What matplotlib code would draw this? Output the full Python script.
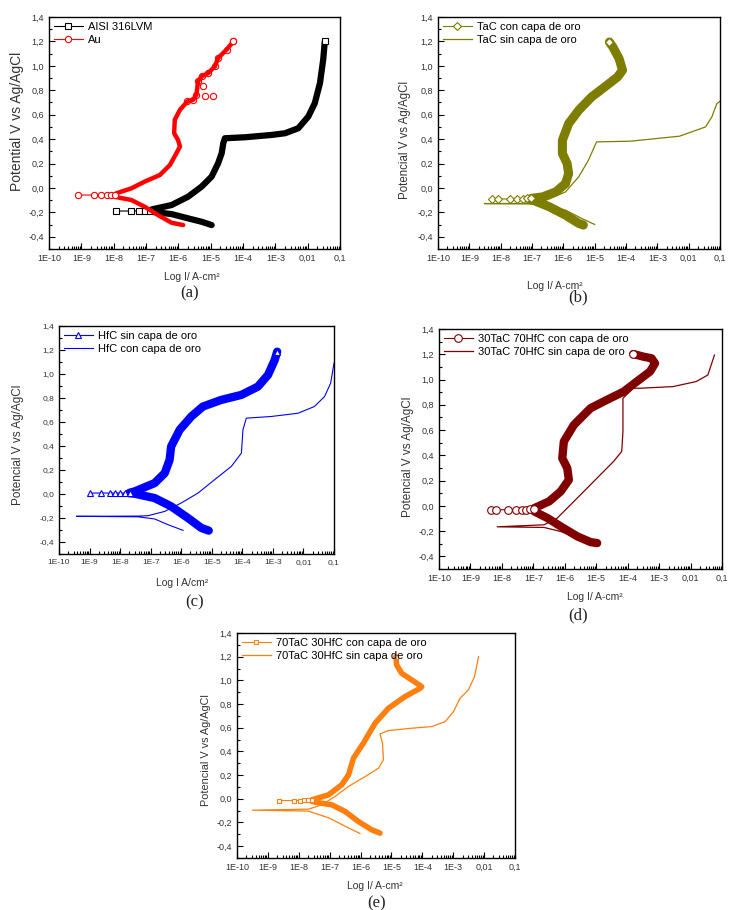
import numpy as np
import matplotlib
matplotlib.use('Agg')
import matplotlib.pyplot as plt
from matplotlib.ticker import LogLocator, FixedLocator, MultipleLocator, NullFormatter

plt.rcParams['font.family'] = ['Liberation Sans', 'DejaVu Sans']

# ---- data: log10(I) and E (V vs Ag/AgCl) ----
# (a)
aisi_tail_x = [-7.94, -7.47, -7.22, -7.04, -6.88]
aisi_tail_y = [-0.189, -0.189, -0.188, -0.187, -0.185]
aisi_an_x = [-6.83, -6.21, -5.70, -5.28, -4.97, -4.77, -4.66, -4.61, -4.56, -3.94, -3.12, -2.70, -2.29, -1.98, -1.78, -1.62, -1.52, -1.47]
aisi_an_y = [-0.176, -0.14, -0.072, 0.011, 0.093, 0.202, 0.284, 0.366, 0.407, 0.415, 0.434, 0.448, 0.489, 0.585, 0.694, 0.858, 1.05, 1.2]
aisi_cat_x = [-6.83, -6.21, -5.70, -5.28, -4.97]
aisi_cat_y = [-0.195, -0.214, -0.249, -0.277, -0.304]

au_tail_x = [-9.10, -8.61, -8.38, -8.22, -8.09, -7.97]
au_tail_y = [-0.058, -0.058, -0.058, -0.058, -0.059, -0.06]
au_an_x = [-7.92, -7.45, -7.04, -6.57, -6.26, -6.06, -5.95, -6.01, -6.13, -6.11, -5.95, -5.72, -5.54, -5.44, -5.39, -5.28, -5.08, -4.87, -4.77, -4.51, -4.30]
au_an_y = [-0.044, -0.003, 0.052, 0.106, 0.188, 0.284, 0.339, 0.393, 0.448, 0.558, 0.64, 0.708, 0.722, 0.763, 0.872, 0.913, 0.94, 0.995, 1.064, 1.132, 1.2]
au_cat_x = [-7.97, -7.45, -7.04, -6.63, -6.21, -5.85]
au_cat_y = [-0.072, -0.099, -0.154, -0.222, -0.285, -0.304]
au_out_x = [-5.18, -4.92, -5.23]
au_out_y = [0.754, 0.757, 0.837]

# (b)
tac_tail_x = [-8.29, -8.08, -7.69, -7.47, -7.30, -7.15, -7.02]
tac_tail_y = [-0.09, -0.09, -0.09, -0.088, -0.087, -0.086, -0.085]
tac_an_x = [-7.02, -6.66, -6.24, -5.93, -5.83, -5.88, -6.03, -6.03, -5.83, -5.51, -5.10, -4.68, -4.27, -4.11, -4.22, -4.42, -4.53]
tac_an_y = [-0.085, -0.073, -0.032, 0.036, 0.118, 0.2, 0.282, 0.391, 0.527, 0.636, 0.745, 0.827, 0.909, 0.964, 1.059, 1.155, 1.195]
tac_cat_x = [-7.02, -6.45, -5.93, -5.51, -5.36]
tac_cat_y = [-0.095, -0.154, -0.223, -0.29, -0.304]
tac_sin_x = [-5.0, -5.41, -5.93, -6.66, -7.3, -8.52, -7.3, -6.66, -5.93, -5.51, -5.2, -4.94, -3.85, -2.29, -1.46, -1.26, -1.1, -0.95]
tac_sin_y = [-0.299, -0.25, -0.182, -0.135, -0.13, -0.128, -0.127, -0.113, -0.032, 0.091, 0.227, 0.377, 0.383, 0.424, 0.50, 0.582, 0.691, 0.718]

# (c)
hfc_tail_x = [-9.0, -8.62, -8.34, -8.18, -8.02, -7.85, -7.69]
hfc_tail_y = [0.008, 0.008, 0.008, 0.008, 0.008, 0.008, 0.01]
hfc_an_x = [-7.69, -7.52, -6.87, -6.54, -6.38, -6.33, -6.05, -5.67, -5.29, -4.69, -4.03, -3.49, -3.16, -2.94, -2.86]
hfc_an_y = [0.01, 0.022, 0.091, 0.174, 0.285, 0.396, 0.535, 0.646, 0.729, 0.784, 0.826, 0.895, 0.992, 1.117, 1.186]
hfc_cat_x = [-7.69, -7.52, -6.87, -6.33, -5.78, -5.34, -5.10]
hfc_cat_y = [0.006, 0.002, -0.034, -0.103, -0.2, -0.283, -0.305]
hfc_con_x = [-5.94, -6.43, -6.87, -7.42, -9.43, -7.42, -7.09, -6.54, -6.0, -5.45, -4.91, -4.36, -4.03, -3.98, -3.87, -3.05, -2.18, -1.64, -1.31, -1.11, -1.0]
hfc_con_y = [-0.303, -0.256, -0.208, -0.19, -0.186, -0.184, -0.181, -0.145, -0.075, 0.008, 0.119, 0.23, 0.341, 0.535, 0.632, 0.646, 0.673, 0.729, 0.812, 0.923, 1.09]

# (d)
m30_tail_x = [-8.34, -8.20, -7.81, -7.55, -7.37, -7.23, -7.10, -6.97]
m30_tail_y = [-0.031, -0.031, -0.031, -0.031, -0.030, -0.029, -0.027, -0.025]
m30_an_x = [-6.97, -6.50, -6.13, -5.87, -5.92, -6.08, -6.03, -5.71, -5.18, -4.66, -4.13, -3.71, -3.29, -3.13, -3.24, -3.50, -3.82]
m30_an_y = [-0.018, 0.035, 0.114, 0.206, 0.298, 0.377, 0.509, 0.641, 0.773, 0.839, 0.904, 0.984, 1.063, 1.128, 1.168, 1.181, 1.202]
m30_cat_x = [-6.97, -6.55, -6.13, -5.60, -5.18, -4.97]
m30_cat_y = [-0.044, -0.097, -0.163, -0.242, -0.287, -0.295]
m30_sin_x = [-5.13, -5.6, -6.13, -6.66, -8.15, -6.66, -6.24, -5.71, -5.08, -4.45, -4.19, -4.15, -4.15, -3.82, -3.61, -2.56, -1.82, -1.45, -1.24]
m30_sin_y = [-0.295, -0.255, -0.203, -0.171, -0.166, -0.15, -0.097, 0.035, 0.193, 0.351, 0.43, 0.588, 0.852, 0.931, 0.931, 0.944, 0.984, 1.036, 1.194]

# (e)
m70_tail_x = [-8.63, -8.14, -7.96, -7.82, -7.69, -7.58]
m70_tail_y = [-0.015, -0.015, -0.015, -0.014, -0.012, -0.01]
m70_an_x = [-7.58, -7.04, -6.61, -6.39, -6.23, -5.91, -5.53, -5.10, -4.56, -4.07, -4.02, -4.34, -4.67, -4.83, -4.86]
m70_an_y = [-0.009, 0.033, 0.118, 0.202, 0.343, 0.469, 0.638, 0.764, 0.863, 0.933, 0.947, 1.003, 1.06, 1.13, 1.2]
m70_cat_x = [-7.58, -7.47, -6.93, -6.50, -6.07, -5.64, -5.37]
m70_cat_y = [-0.02, -0.029, -0.051, -0.107, -0.192, -0.262, -0.29]
m70_sin_x = [-6.02, -6.29, -6.61, -7.04, -7.69, -9.5, -7.69, -7.26, -6.83, -6.39, -5.85, -5.42, -5.26, -5.29, -5.37, -5.10, -4.34, -3.69, -3.26, -2.99, -2.78, -2.51, -2.31, -2.18]
m70_sin_y = [-0.293, -0.259, -0.217, -0.16, -0.104, -0.096, -0.088, -0.051, 0.019, 0.104, 0.188, 0.258, 0.329, 0.469, 0.548, 0.576, 0.596, 0.61, 0.652, 0.736, 0.849, 0.919, 1.032, 1.2]

xtick_labels = ['1E-10', '1E-9', '1E-8', '1E-7', '1E-6', '1E-5', '1E-4', '1E-3', '0,01', '0,1']
ytick_vals = [-0.4, -0.2, 0.0, 0.2, 0.4, 0.6, 0.8, 1.0, 1.2, 1.4]


def L(v):
    return 10.0 ** np.array(v)


def setup(ax, ylab, xlab, yl_pos, xl_pos, ysize, tsize=6.5):
    ax.set_xscale('log')
    ax.set_xlim(1e-10, 0.1)
    ax.set_ylim(-0.5, 1.4)
    ax.xaxis.set_major_locator(FixedLocator([10.0 ** k for k in range(-10, 0)]))
    ax.set_xticklabels(xtick_labels)
    ax.xaxis.set_minor_locator(LogLocator(base=10, subs=np.arange(2, 10), numticks=50))
    ax.xaxis.set_minor_formatter(NullFormatter())
    ax.yaxis.set_major_locator(FixedLocator(ytick_vals))
    ax.set_yticklabels([f'{v:.1f}'.replace('.', ',') for v in ytick_vals])
    ax.yaxis.set_minor_locator(MultipleLocator(0.1))
    ax.tick_params(which='both', direction='in', labelsize=tsize, labelcolor='#333333', width=0.8)
    ax.tick_params(which='major', length=4)
    ax.tick_params(which='minor', length=2.5)
    for s in ax.spines.values():
        s.set_linewidth(1.0)
    ax.text(yl_pos[0], yl_pos[1], ylab, transform=ax.transAxes, rotation=90,
            ha='center', va='center', fontsize=ysize, color='#333333')
    ax.text(xl_pos[0], xl_pos[1], xlab, transform=ax.transAxes,
            ha='center', va='center', fontsize=7.5, color='#333333')


def marked(ax, tx, ty, cx, cy, ax_, ay, color, marker, ms, lw, label, mew=0.8):
    # dense marker band drawn as a thick stroke, sparse tail with open markers
    ax.plot(L(cx), cy, color=color, lw=lw, solid_capstyle='round', solid_joinstyle='round')
    ax.plot(L(ax_), ay, color=color, lw=lw, solid_capstyle='round', solid_joinstyle='round')
    ax.plot(L([tx[-1], cx[0]]), [ty[-1], cy[0]], color=color, lw=lw * 0.6)
    ax.plot(L([tx[-1], ax_[0]]), [ty[-1], ay[0]], color=color, lw=lw * 0.6)
    h, = ax.plot(L(tx), ty, color=color, lw=0.8, marker=marker, ms=ms, mfc='white',
                 mec=color, mew=mew, label=label)
    ax.plot(L(ax_[-1:]), ay[-1:], ls='none', marker=marker, ms=ms, mfc='white', mec=color, mew=mew)
    return h


def legend(ax, handles, size=8):
    ax.legend(handles=handles, loc='upper left', frameon=False, fontsize=size, numpoints=1,
              handlelength=2.6, handletextpad=0.5, labelspacing=0.3, borderaxespad=0.25,
              borderpad=0.2)


fig = plt.figure(figsize=(7.29, 9.10), dpi=100)
W, H = 729.0, 910.0


def axes_px(l, r, t, b):
    return fig.add_axes([l / W, 1 - b / H, (r - l) / W, (b - t) / H])


# (a)
ax = axes_px(49, 340, 17, 249)
setup(ax, 'Potential V vs Ag/AgCl', 'Log I/ A-cm²', (-0.11, 0.55), (0.49, -0.121), 10)
h1 = marked(ax, aisi_tail_x, aisi_tail_y, aisi_cat_x, aisi_cat_y, aisi_an_x, aisi_an_y,
            'black', 's', 4, 4.5, 'AISI 316LVM')
ax.plot(L(au_an_x[11:]), au_an_y[11:], ls='none', marker='o', ms=4.5, mfc='white', mec='red', mew=0.8)
h2 = marked(ax, au_tail_x, au_tail_y, au_cat_x, au_cat_y, au_an_x, au_an_y,
            'red', 'o', 4.5, 3.2, 'Au')
ax.plot(L(au_out_x), au_out_y, ls='none', marker='o', ms=4.5, mfc='white', mec='red', mew=0.8)
legend(ax, [h1, h2])

# (b)
ax = axes_px(438, 720, 17, 249)
setup(ax, 'Potencial V vs Ag/AgCl', 'Log I/ A-cm²', (-0.117, 0.47), (0.415, -0.159), 8.3)
olive = '#7d7d00'
h1 = marked(ax, tac_tail_x, tac_tail_y, tac_cat_x, tac_cat_y, tac_an_x, tac_an_y,
            olive, 'D', 4.5, 6.5, 'TaC con capa de oro')
h2, = ax.plot(L(tac_sin_x), tac_sin_y, color=olive, lw=0.9, label='TaC sin capa de oro')
legend(ax, [h1, h2])

# (c)
ax = axes_px(59, 334, 326, 554)
setup(ax, 'Potencial V vs Ag/AgCl', 'Log I A/cm²', (-0.149, 0.478), (0.447, -0.127), 8.5, 6)
h1 = marked(ax, hfc_tail_x, hfc_tail_y, hfc_cat_x, hfc_cat_y, hfc_an_x, hfc_an_y,
            '#0000ff', '^', 5, 6, 'HfC sin capa de oro')
h2, = ax.plot(L(hfc_con_x), hfc_con_y, color='#0000ff', lw=0.8, label='HfC con capa de oro')
legend(ax, [h1, h2])

# (d)
ax = axes_px(439, 722, 329, 569)
setup(ax, 'Potencial V vs Ag/AgCl', 'Log I/ A-cm²', (-0.11, 0.467), (0.55, -0.117), 8.5)
dred = '#800000'
h1 = marked(ax, m30_tail_x, m30_tail_y, m30_cat_x, m30_cat_y, m30_an_x, m30_an_y,
            dred, 'o', 5.5, 6, '30TaC 70HfC con capa de oro')
h2, = ax.plot(L(m30_sin_x), m30_sin_y, color=dred, lw=0.9, label='30TaC 70HfC sin capa de oro')
legend(ax, [h1, h2])

# (e)
ax = axes_px(237, 515, 633, 858)
setup(ax, 'Potencial V vs Ag/AgCl', 'Log I/ A-cm²', (-0.112, 0.48), (0.496, -0.124), 7.8)
orange = '#ff7f0e'
h1 = marked(ax, m70_tail_x, m70_tail_y, m70_cat_x, m70_cat_y, m70_an_x, m70_an_y,
            orange, 's', 2.5, 4, '70TaC 30HfC con capa de oro')
h2, = ax.plot(L(m70_sin_x), m70_sin_y, color=orange, lw=0.9, label='70TaC 30HfC sin capa de oro')
legend(ax, [h1, h2])

for lab, x, y in [('(a)', 190, 293), ('(b)', 578, 297), ('(c)', 195, 602),
                  ('(d)', 578, 615), ('(e)', 377, 903)]:
    fig.text(x / W, 1 - y / H, lab, ha='center', va='center', fontsize=12,
             family='Liberation Serif', color='#222222')

fig.savefig('out.png', dpi=100)
